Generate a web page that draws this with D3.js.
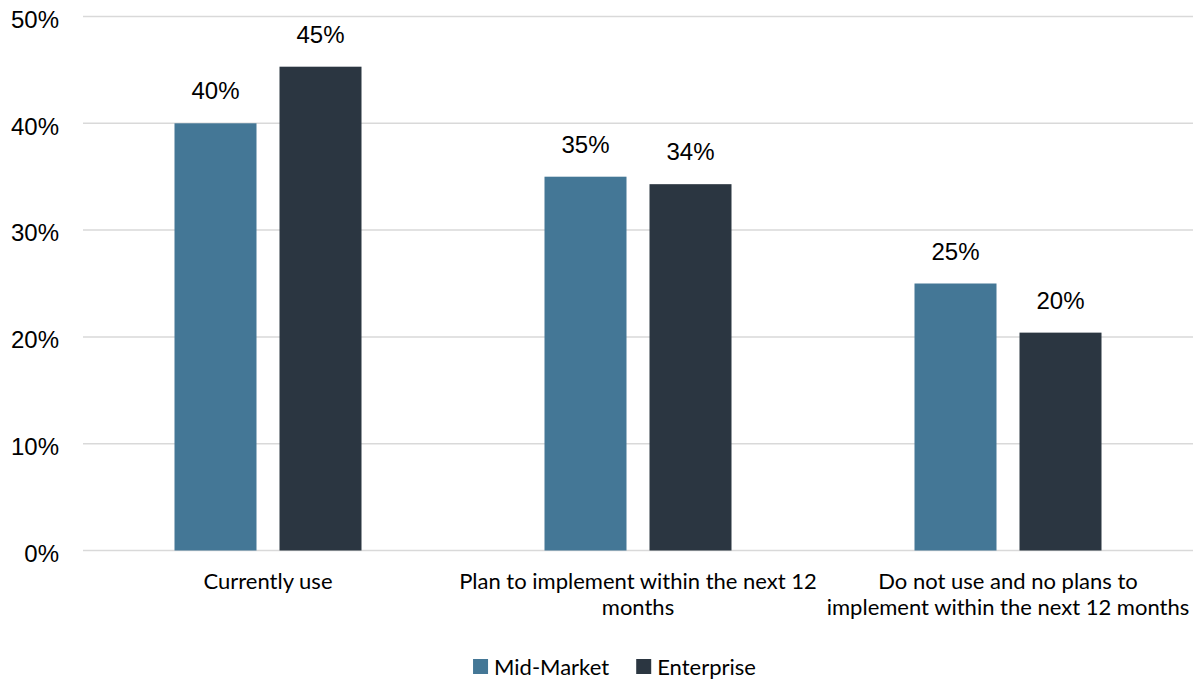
<!DOCTYPE html>
<html>
<head>
<meta charset="utf-8">
<script src="https://cdn.jsdelivr.net/npm/d3@7"></script>
<style>
  html, body { margin: 0; padding: 0; background: #fff; }
  svg { display: block; }
</style>
</head>
<body>
<svg id="chart" width="1197" height="680"></svg>
<script>
// Survey responses by company segment
const categories = [
  "Currently use",
  "Plan to implement within the next 12\nmonths",
  "Do not use and no plans to\nimplement within the next 12 months"
];
const seriesNames = ["Mid-Market", "Enterprise"];
const midMarket = [0.40, 0.35, 0.25];
const enterprise = [0.453, 0.343, 0.204];
const yTicks = [0, 0.1, 0.2, 0.3, 0.4, 0.5];

const colors = { "Mid-Market": "#447796", "Enterprise": "#2b3641" };
const valueFont = "'Liberation Sans', Arial, sans-serif";
const textFont = "Lato, 'Open Sans', sans-serif";

const values = { "Mid-Market": midMarket, "Enterprise": enterprise };
const rows = categories.map((c, i) => ({
  category: c,
  items: seriesNames.map(s => ({ series: s, value: values[s][i] }))
}));

const svg = d3.select("#chart");
const plotLeft = 83, plotRight = 1193, plotTop = 16.5, plotBottom = 550.5;

const y = d3.scaleLinear().domain([0, 0.5]).range([plotBottom, plotTop]);
const x0 = d3.scaleBand().domain(categories).range([plotLeft, plotRight]).paddingInner(0).paddingOuter(0);
const groupWidth = 187;
const x1 = d3.scaleBand().domain(seriesNames)
  .range([(x0.bandwidth() - groupWidth) / 2, (x0.bandwidth() + groupWidth) / 2])
  .paddingInner(23 / 105);

// gridlines
svg.append("g").selectAll("line").data(yTicks).join("line")
  .attr("x1", plotLeft).attr("x2", plotRight)
  .attr("y1", d => y(d)).attr("y2", d => y(d))
  .attr("stroke", "#d9d9d9").attr("stroke-width", 1.5);

// y axis labels
const yAxis = d3.axisLeft(y).tickValues(yTicks).tickFormat(d3.format(".0%")).tickSize(0).tickPadding(0);
const gy = svg.append("g").attr("transform", `translate(59,0)`).call(yAxis);
gy.select(".domain").remove();
gy.selectAll("text")
  .attr("font-family", valueFont).attr("font-size", 24).attr("fill", "#000")
  .attr("dy", "0.45em");

// bars
const groups = svg.append("g").selectAll("g").data(rows).join("g")
  .attr("transform", d => `translate(${x0(d.category)},0)`);

groups.selectAll("rect").data(d => d.items).join("rect")
  .attr("x", d => x1(d.series))
  .attr("width", x1.bandwidth())
  .attr("y", d => y(d.value))
  .attr("height", d => y(0) - y(d.value))
  .attr("fill", d => colors[d.series]);

groups.selectAll("text.value").data(d => d.items).join("text")
  .attr("class", "value")
  .attr("x", d => x1(d.series) + x1.bandwidth() / 2)
  .attr("y", d => y(d.value) - 24)
  .attr("text-anchor", "middle")
  .attr("font-family", valueFont).attr("font-size", 24).attr("fill", "#000")
  .text(d => d3.format(".0%")(d.value));

// category labels
const catLabels = svg.append("g").selectAll("text").data(categories).join("text")
  .attr("x", d => x0(d) + x0.bandwidth() / 2)
  .attr("y", 589)
  .attr("text-anchor", "middle")
  .attr("font-family", textFont).attr("font-size", 22).attr("fill", "#000");
catLabels.each(function(d) {
  const t = d3.select(this);
  d.split("\n").forEach((line, i) => {
    t.append("tspan").attr("x", x0(d) + x0.bandwidth() / 2).attr("dy", i === 0 ? 0 : 26).text(line);
  });
});

// legend
const legend = svg.append("g");
const items = legend.selectAll("g").data(seriesNames).join("g");
items.append("rect").attr("width", 15).attr("height", 15).attr("y", -16)
  .attr("fill", d => colors[d]);
items.append("text").attr("x", 21).attr("y", 0)
  .attr("font-family", textFont).attr("font-size", 22).attr("fill", "#000")
  .text(d => d);
let offset = 0;
items.each(function() {
  const g = d3.select(this);
  g.attr("transform", `translate(${offset},0)`);
  offset += this.getBBox().width + 27;
});
const totalWidth = offset - 27;
legend.attr("transform", `translate(${(1197 - totalWidth) / 2 + 16},675)`);
</script>
</body>
</html>
